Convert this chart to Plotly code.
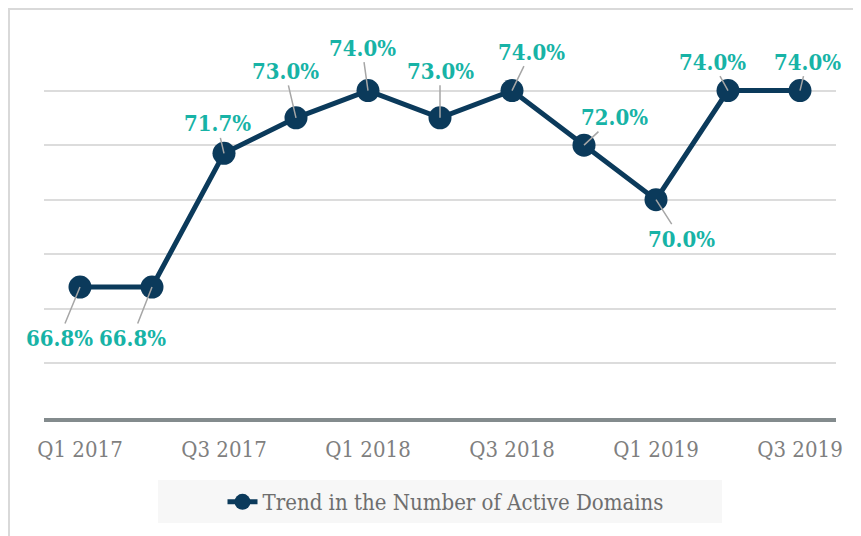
import plotly.graph_objects as go

quarters = ["Q1 2017", "Q2 2017", "Q3 2017", "Q4 2017", "Q1 2018", "Q2 2018",
            "Q3 2018", "Q4 2018", "Q1 2019", "Q2 2019", "Q3 2019"]
active_share = [66.8, 66.8, 71.7, 73.0, 74.0, 73.0, 74.0, 72.0, 70.0, 74.0, 74.0]
shown_ticks = ["Q1 2017", "Q3 2017", "Q1 2018", "Q3 2018", "Q1 2019", "Q3 2019"]
series_name = "Trend in the Number of Active Domains"

# label offsets in pixels (text centre relative to the point)
label_offsets = [(-21, 51), (-20, 51), (-7, -30), (-11, -47), (-6, -43), (0, -47),
                 (19, -39), (30, -28), (25, 39), (-16, -29), (7, -29)]

FONT = "DejaVu Serif Condensed, DejaVu Serif, Liberation Serif, serif"
NAVY = "#0B3A5B"
TEAL = "#17B3A6"

OFF = 8  # page body margin
W, H = 861 - OFF, 536 - OFF
# plot area in page pixels: x 44..836, y 36..418
ml, mr, mt, mb = 44 - OFF, W - (836 - OFF), 36 - OFF, H - (418 - OFF)
pw, ph = W - ml - mr, H - mt - mb

def px_x(p):
    return (p - OFF - ml) / pw

def px_y(p):
    return (H - mb - (p - OFF)) / ph

fig = go.Figure()
fig.add_trace(go.Scatter(
    x=quarters, y=active_share, mode="lines+markers", name=series_name,
    line=dict(color=NAVY, width=5),
    marker=dict(color=NAVY, size=23),
))

annotations = []
for q, v, (dx, dy) in zip(quarters, active_share, label_offsets):
    annotations.append(dict(
        x=q, y=v, xref="x", yref="y", text=f"<b>{v:.1f}%</b>",
        showarrow=True, arrowhead=0, arrowwidth=1.5, arrowcolor="#A6A6A6",
        ax=dx, ay=dy, standoff=0,
        font=dict(family=FONT, size=22, color=TEAL),
    ))

shapes = [
    # outer chart border (top and left visible)
    dict(type="rect", xref="paper", yref="paper",
         x0=px_x(9), x1=px_x(900), y0=px_y(600), y1=px_y(9),
         line=dict(color="#D9D9D9", width=2), fillcolor="rgba(0,0,0,0)", layer="below"),
    # legend background
    dict(type="rect", xref="paper", yref="paper",
         x0=px_x(158), x1=px_x(722), y0=px_y(523), y1=px_y(480),
         line=dict(width=0), fillcolor="#F7F7F7", layer="below"),
]

fig.update_layout(
    width=W, height=H,
    margin=dict(l=ml, r=mr, t=mt, b=mb),
    paper_bgcolor="white", plot_bgcolor="white",
    showlegend=True,
    legend=dict(orientation="h", x=px_x(446), xanchor="center", y=px_y(502), yanchor="middle",
                bgcolor="rgba(0,0,0,0)", font=dict(family=FONT, size=22, color="#6E6E6E")),
    xaxis=dict(type="category", range=[-0.5, 10.5], tickmode="array", tickvals=shown_ticks,
               ticktext=shown_ticks, showgrid=False, showline=True, linecolor="#838B8D",
               linewidth=4, ticks="outside", ticklen=9, tickcolor="rgba(0,0,0,0)",
               tickfont=dict(family=FONT, size=22, color="#7F7F7F"), fixedrange=True),
    yaxis=dict(range=[62, 76], dtick=2, showgrid=True, gridcolor="#DCDCDC", gridwidth=2,
               showticklabels=False, zeroline=False, showline=False, fixedrange=True),
    annotations=annotations,
    shapes=shapes,
)

fig.write_html("out.html")
